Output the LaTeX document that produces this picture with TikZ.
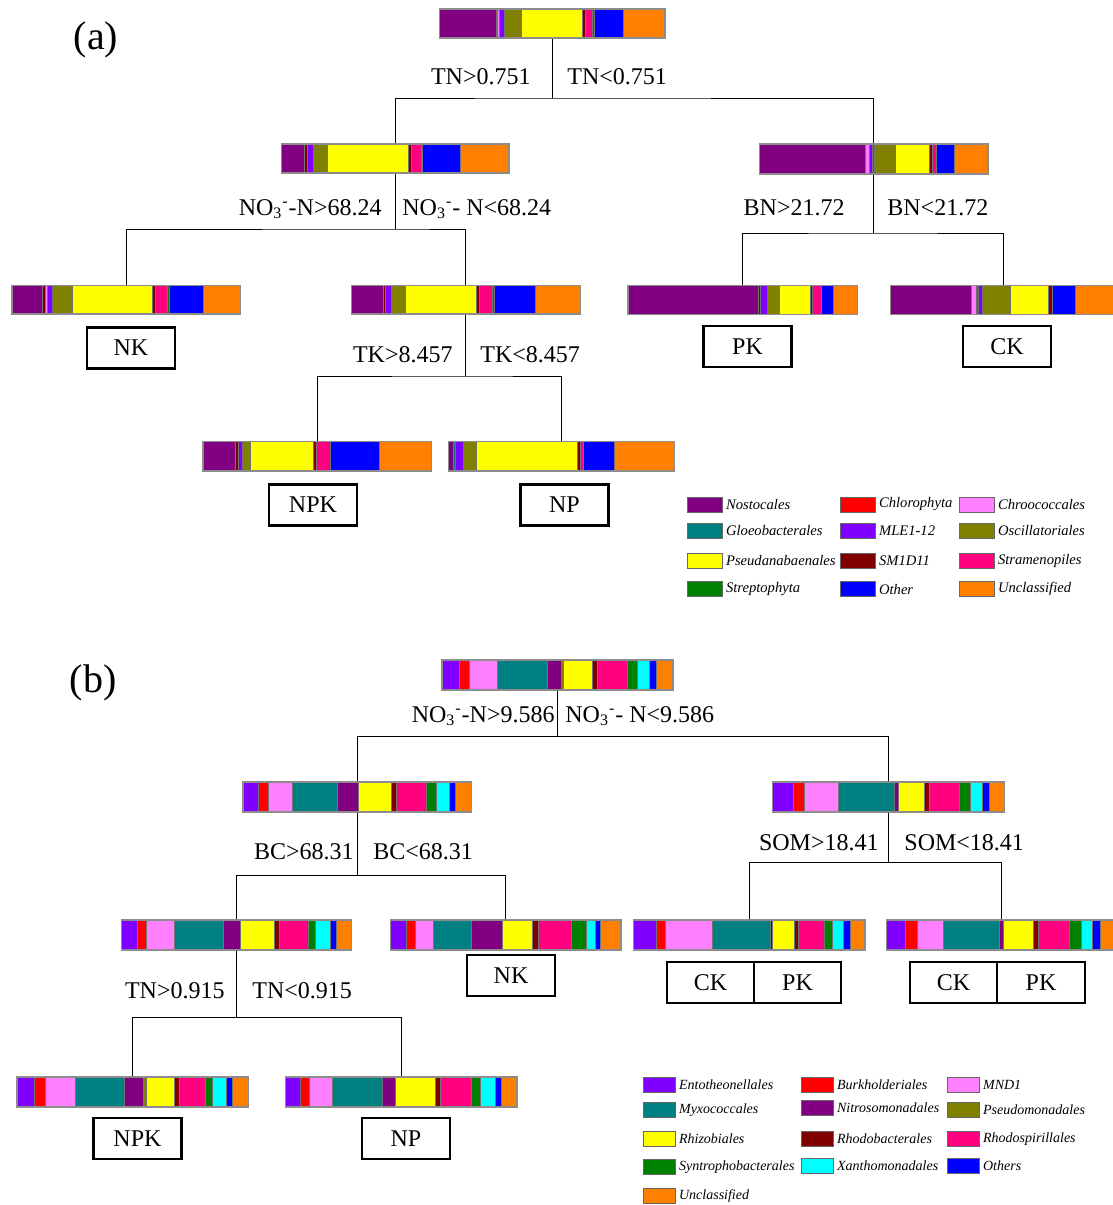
\documentclass[tikz,border=0pt]{standalone}
\usepackage{fontspec}
\setmainfont{Liberation Serif}
\usetikzlibrary{fit}
\definecolor{cPur}{RGB}{128,0,128}
\definecolor{cRed}{RGB}{255,0,0}
\definecolor{cPnk}{RGB}{255,128,255}
\definecolor{cTeal}{RGB}{0,128,128}
\definecolor{cVio}{RGB}{128,0,255}
\definecolor{cOli}{RGB}{128,128,0}
\definecolor{cYel}{RGB}{255,255,0}
\definecolor{cMar}{RGB}{128,0,0}
\definecolor{cMag}{RGB}{255,0,128}
\definecolor{cGrn}{RGB}{0,128,0}
\definecolor{cBlu}{RGB}{0,0,255}
\definecolor{cOra}{RGB}{255,128,0}
\definecolor{cCya}{RGB}{0,255,255}
\tikzset{
 seg/.style={draw=black!55, line width=0.35pt},
 barn/.style={draw=black!45, line width=0.7pt, inner sep=0pt, rectangle},
 conn/.style={draw=black, line width=0.5pt},
 lbl/.style={inner sep=0pt, font=\fontsize{12}{14}\selectfont},
 lbox/.style={draw=black, line width=1.1pt, minimum width=44pt, minimum height=20.5pt, inner sep=0pt, font=\fontsize{12}{14}\selectfont},
 swa/.style={draw=black!60, line width=0.5pt, minimum width=17.5pt, minimum height=7.5pt, inner sep=0pt},
 swb/.style={draw=black!60, line width=0.5pt, minimum width=16pt, minimum height=7.5pt, inner sep=0pt},
 lt/.style={anchor=west, inner sep=0pt, font=\fontsize{7.3}{8}\selectfont\itshape},
 ltb/.style={anchor=west, inner sep=0pt, font=\fontsize{7}{8}\selectfont\itshape},
 pl/.style={font=\fontsize{20}{24}\selectfont, inner sep=0pt}
}
\newcommand{\mybar}[8]{%
 \foreach \c/\a/\b in {#8} {\filldraw[seg, fill=\c] ({#2+\a/#3},#4) rectangle ({#2+\b/#3},#5);}
 \node[barn, fit={({#2+#6/#3},#4) ({#2+#7/#3},#5)}] (#1) {};
}
\newcommand{\nothree}{NO\textsubscript{3}\textsuperscript{-}}
\begin{document}
\begin{tikzpicture}[x=0.5pt, y=-0.5pt]
\useasboundingbox (0,0) rectangle (1113,1205);
% ---------------- (a) ----------------
\node[pl] (la) at (96,40) {(a)};
\mybar{a0}{435}{3}{9}{38}{14}{690}{cPur/14/183, cMar/183/187, cPnk/187/192, cVio/192/208, cOli/208/258, cYel/258/443, cMar/443/450, cMag/450/473, cGrn/473/478, cBlu/478/565, cOra/565/690}
\mybar{a1}{278}{3}{144}{173}{10}{693}{cPur/10/80, cMar/80/88, cVio/88/105, cOli/105/147, cYel/147/390, cMar/390/400, cMag/400/430, cGrn/430/434, cBlu/434/547, cOra/547/693}
\mybar{a2}{752}{3}{144}{174}{22}{708}{cPur/22/340, cPnk/340/352, cVio/352/362, cTeal/362/368, cOli/368/430, cYel/430/533, cMar/533/540, cMag/540/553, cBlu/553/607, cOra/607/708}
\mybar{a3}{8}{3}{285.5}{314}{12}{697}{cPur/12/103, cMar/103/111, cPnk/111/117, cVio/117/133, cOli/133/192, cYel/192/432, cMar/432/441, cMag/441/477, cGrn/477/485, cBlu/485/585, cOra/585/697}
\mybar{a4}{348}{3}{285.5}{314}{10}{697}{cPur/10/105, cMar/105/112, cVio/112/130, cOli/130/172, cYel/172/385, cMar/385/395, cMag/395/433, cGrn/433/440, cBlu/440/562, cOra/562/697}
\mybar{a5}{622}{3}{285.5}{314.5}{18}{707}{cPur/18/410, cMar/410/416, cVio/416/435, cOli/435/472, cYel/472/565, cMar/565/572, cMag/572/597, cBlu/597/633, cOra/633/707}
\mybar{a6}{622}{3}{285.5}{314.5}{805}{1485}{cPur/805/1047, cPnk/1047/1062, cTeal/1062/1068, cVio/1068/1080, cOli/1080/1165, cYel/1165/1280, cMar/1280/1290, cBlu/1290/1360, cOra/1360/1485}
\mybar{a7}{198}{3}{441.5}{471}{15}{700}{cPur/15/112, cMar/112/120, cVio/120/133, cOli/133/157, cYel/157/347, cMar/347/356, cMag/356/398, cBlu/398/545, cOra/545/700}
\mybar{a8}{198}{3}{441.5}{471}{752}{1430}{cPur/752/765, cTeal/765/772, cVio/772/797, cOli/797/835, cYel/835/1137, cMar/1137/1147, cMag/1147/1157, cBlu/1157/1249, cOra/1249/1430}
% connectors (a)
\coordinate (sa0) at (552,98);
\coordinate (sa1) at (395,229);
\coordinate (sa2) at (873,233);
\coordinate (sa4) at (465,376);
\draw[conn] (a0.south) -- (a0.south |- sa0);
\draw[conn] (a1.north) |- (sa0) -| (a2.north);
\draw[conn] (a1.south) -- (a1.south |- sa1);
\draw[conn] (a3.north) |- (sa1) -| (a4.north);
\draw[conn] (a2.south) -- (a2.south |- sa2);
\draw[conn] (a5.north) |- (sa2) -| (a6.north);
\draw[conn] (a4.south) -- (a4.south |- sa4);
\draw[conn] (a7.north) |- (sa4) -| (a8.north);
% labels (a)
\node[lbl, anchor=east] (ta1) at (531,77) {TN>0.751};
\node[lbl, anchor=west] (ta2) at (567,77) {TN<0.751};
\node[lbl, anchor=east] (ta3) at (382,209) {\nothree-N>68.24};
\node[lbl, anchor=west] (ta4) at (402,209) {\nothree- N<68.24};
\node[lbl, anchor=east] (ta5) at (845,208) {BN>21.72};
\node[lbl, anchor=west] (ta6) at (887,208) {BN<21.72};
\node[lbl, anchor=east] (ta7) at (453,355) {TK>8.457};
\node[lbl, anchor=west] (ta8) at (480,355) {TK<8.457};
% boxes (a)
\node[lbox] (bNKa) at (131,348) {NK};
\node[lbox] (bPKa) at (747.5,346.5) {PK};
\node[lbox] (bCKa) at (1007,346.5) {CK};
\node[lbox] (bNPKa) at (313,505) {NPK};
\node[lbox] (bNPa) at (564.5,505) {NP};
% legend (a)
\foreach \c/\t/\x/\y [count=\i] in {cPur/Nostocales/704.5/504.5, cRed/Chlorophyta/857.5/504.5, cPnk/Chroococcales/976.5/504.5,
 cTeal/Gloeobacterales/704.5/531, cVio/MLE1-12/857.5/531, cOli/Oscillatoriales/976.5/531,
 cYel/Pseudanabaenales/704.5/560.5, cMar/SM1D11/857.5/560.5, cMag/Stramenopiles/976.5/560.5,
 cGrn/Streptophyta/704.5/589, cBlu/Other/857.5/589, cOra/Unclassified/976.5/589}
 {\node[swa, fill=\c] (lsa\i) at (\x,\y) {};
  \node[lt] (lta\i) at ([xshift=1.6pt]lsa\i.east) {\t};}
% ---------------- (b) ----------------
\node[pl] (lb) at (93,683) {(b)};
\mybar{b0}{438}{3}{660}{690}{12}{705}{cVio/12/65, cRed/65/95, cPnk/95/178, cTeal/178/328, cPur/328/370, cOli/370/375, cYel/375/463, cMar/463/478, cMag/478/568, cGrn/568/598, cCya/598/635, cBlu/635/655, cOra/655/705}
\mybar{b1}{238}{2.036}{782}{812}{10}{475}{cVio/10/42, cRed/42/62, cPnk/62/110, cTeal/110/202, cPur/202/245, cYel/245/313, cMar/313/323, cMag/323/383, cGrn/383/403, cCya/403/430, cBlu/430/442, cOra/442/475}
\mybar{b2}{238}{2.036}{782}{812}{1088}{1560}{cVio/1088/1130, cRed/1130/1153, cPnk/1153/1222, cTeal/1222/1337, cPur/1337/1345, cYel/1345/1398, cMar/1398/1408, cMag/1408/1468, cGrn/1468/1492, cCya/1492/1515, cBlu/1515/1530, cOra/1530/1560}
\mybar{b3}{115}{1.571}{920}{950}{10}{372}{cVio/10/35, cRed/35/50, cPnk/50/93, cTeal/93/170, cPur/170/197, cYel/197/250, cMar/250/258, cMag/258/303, cGrn/303/315, cCya/315/338, cBlu/338/348, cOra/348/372}
\mybar{b4}{115}{1.571}{920}{950}{433}{795}{cVio/433/457, cRed/457/472, cPnk/472/500, cTeal/500/560, cPur/560/608, cYel/608/655, cMar/655/665, cMag/665/717, cGrn/717/740, cCya/740/755, cBlu/755/763, cOra/763/795}
\mybar{b5}{115}{1.571}{920}{950}{815}{1178}{cVio/815/850, cRed/850/865, cPnk/865/938, cTeal/938/1030, cMar/1030/1033, cYel/1033/1068, cMar/1068/1073, cMag/1073/1115, cGrn/1115/1127, cCya/1127/1145, cBlu/1145/1155, cOra/1155/1178}
\mybar{b6}{115}{1.571}{920}{950}{1212}{1574}{cVio/1212/1242, cRed/1242/1260, cPnk/1260/1302, cTeal/1302/1390, cPur/1390/1395, cYel/1395/1443, cMar/1443/1450, cMag/1450/1500, cGrn/1500/1518, cCya/1518/1535, cBlu/1535/1548, cOra/1548/1574}
\mybar{b7}{12}{3}{1077}{1107}{15}{710}{cVio/15/67, cRed/67/100, cPnk/100/190, cTeal/190/337, cPur/337/395, cOli/395/402, cYel/402/488, cMar/488/503, cMag/503/580, cGrn/580/600, cCya/600/643, cBlu/643/660, cOra/660/710}
\mybar{b8}{12}{3}{1077}{1107}{820}{1515}{cVio/820/865, cRed/865/893, cPnk/893/962, cTeal/962/1110, cPur/1110/1150, cYel/1150/1270, cMar/1270/1285, cMag/1285/1378, cGrn/1378/1405, cCya/1405/1450, cBlu/1450/1468, cOra/1468/1515}
% connectors (b)
\coordinate (sb0) at (559,736);
\coordinate (sb1) at (358,875);
\coordinate (sb2) at (889,862);
\coordinate (sb3) at (237,1017);
\draw[conn] (b0.south) -- (b0.south |- sb0);
\draw[conn] (b1.north) |- (sb0) -| (b2.north);
\draw[conn] (b1.south) -- (b1.south |- sb1);
\draw[conn] (b3.north) |- (sb1) -| (b4.north);
\draw[conn] (b2.south) -- (b2.south |- sb2);
\draw[conn] (b5.north) |- (sb2) -| (b6.north);
\draw[conn] (b3.south) -- (b3.south |- sb3);
\draw[conn] (b7.north) |- (sb3) -| (b8.north);
% labels (b)
\node[lbl, anchor=east] (tb1) at (555,716) {\nothree-N>9.586};
\node[lbl, anchor=west] (tb2) at (565,716) {\nothree- N<9.586};
\node[lbl, anchor=east] (tb3) at (354,852) {BC>68.31};
\node[lbl, anchor=west] (tb4) at (373,852) {BC<68.31};
\node[lbl, anchor=east] (tb5) at (879,843) {SOM>18.41};
\node[lbl, anchor=west] (tb6) at (904,843) {SOM<18.41};
\node[lbl, anchor=east] (tb7) at (225,991) {TN>0.915};
\node[lbl, anchor=west] (tb8) at (252,991) {TN<0.915};
% boxes (b)
\node[lbox] (bNKb) at (511,975.5) {NK};
\node[lbox, minimum width=43.5pt] (bCK1) at (710.5,982.5) {CK};
\node[lbox, minimum width=43.5pt] (bPK1) at (797.5,982.5) {PK};
\node[lbox, minimum width=43.5pt] (bCK2) at (953.5,982.5) {CK};
\node[lbox] (bPK2) at (1041,982.5) {PK};
\node[lbox] (bNPKb) at (137.5,1138.5) {NPK};
\node[lbox] (bNPb) at (406,1138.5) {NP};
% legend (b)
\foreach \c/\t/\x/\y [count=\i] in {cVio/Entotheonellales/659/1085, cRed/Burkholderiales/817/1085, cPnk/MND1/963/1085,
 cTeal/Myxococcales/659/1110, cPur/Nitrosomonadales/817/1108, cOli/Pseudomonadales/963/1110,
 cYel/Rhizobiales/659/1139, cMar/Rhodobacterales/817/1139, cMag/Rhodospirillales/963/1139,
 cGrn/Syntrophobacterales/659/1167, cCya/Xanthomonadales/817/1166, cBlu/Others/963/1166,
 cOra/Unclassified/659/1196}
 {\node[swb, fill=\c] (lsb\i) at (\x,\y) {};
  \node[ltb] (ltb\i) at ([xshift=1.6pt]lsb\i.east) {\t};}
\end{tikzpicture}
\end{document}
